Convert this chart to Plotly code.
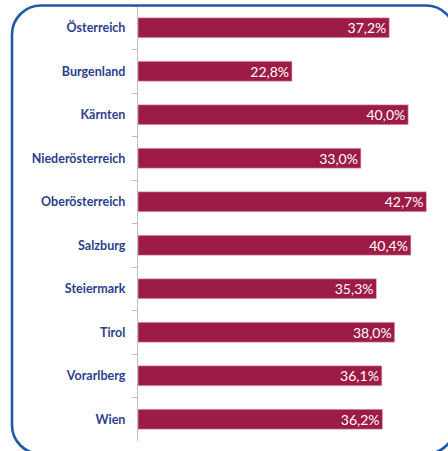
import plotly.graph_objects as go

regions = ["Österreich", "Burgenland", "Kärnten", "Niederösterreich", "Oberösterreich",
           "Salzburg", "Steiermark", "Tirol", "Vorarlberg", "Wien"]
values = [37.2, 22.8, 40.0, 33.0, 42.7, 40.4, 35.3, 38.0, 36.1, 36.2]

W, H = 448, 451
L, R = 138, 442
T, B = 6, 441

fig = go.Figure(go.Bar(
    x=values, y=regions, orientation="h",
    marker=dict(color="#9C1C45", line=dict(color="#E9C3CF", width=0.6)),
    texttemplate="%{x:.1f}%", textposition="inside", insidetextanchor="end",
    constraintext="none",
    textfont=dict(family="Lato", size=14, color="white"),
    width=0.46, cliponaxis=False,
))

def px(x):
    return (x - L) / (R - L)

def py(y):
    return (B - y) / (B - T)

x0, y0, x1, y1, r = 12.0, 5.5, 455.0, 454.0, 29
k = 0.5523 * r
def P(x, y):
    return f"{px(x):.5f},{py(y):.5f}"
path = (
    f"M {P(x0 + r, y0)} L {P(x1 - r, y0)} "
    f"C {P(x1 - r + k, y0)} {P(x1, y0 + r - k)} {P(x1, y0 + r)} "
    f"L {P(x1, y1 - r)} "
    f"C {P(x1, y1 - r + k)} {P(x1 - r + k, y1)} {P(x1 - r, y1)} "
    f"L {P(x0 + r, y1)} "
    f"C {P(x0 + r - k, y1)} {P(x0, y1 - r + k)} {P(x0, y1 - r)} "
    f"L {P(x0, y0 + r)} "
    f"C {P(x0, y0 + r - k)} {P(x0 + r - k, y0)} {P(x0 + r, y0)} Z"
)

fig.update_layout(
    width=W, height=H,
    margin=dict(l=L, r=W - R, t=T, b=H - B, pad=0),
    paper_bgcolor="white", plot_bgcolor="white",
    separators=",.",
    showlegend=False,
    xaxis=dict(range=[0, 45], visible=False, fixedrange=True),
    yaxis=dict(
        autorange="reversed", type="category",
        showline=True, linecolor="#BFBFBF", linewidth=1.2,
        ticks="outside", tickson="boundaries", ticklen=5, tickcolor="#BFBFBF",
        tickfont=dict(family="Lato", size=12.5, color="#2E3E8E", weight="bold"),
        ticklabelstandoff=9,
        showgrid=False, fixedrange=True,
    ),
    shapes=[dict(type="path", xref="paper", yref="paper", path=path,
                 line=dict(color="#1F5AA8", width=2.6), layer="above")],
)

fig.write_html("out.html", config={"displayModeBar": False},
               post_script="document.body.style.margin='0';document.body.style.overflow='hidden';")
